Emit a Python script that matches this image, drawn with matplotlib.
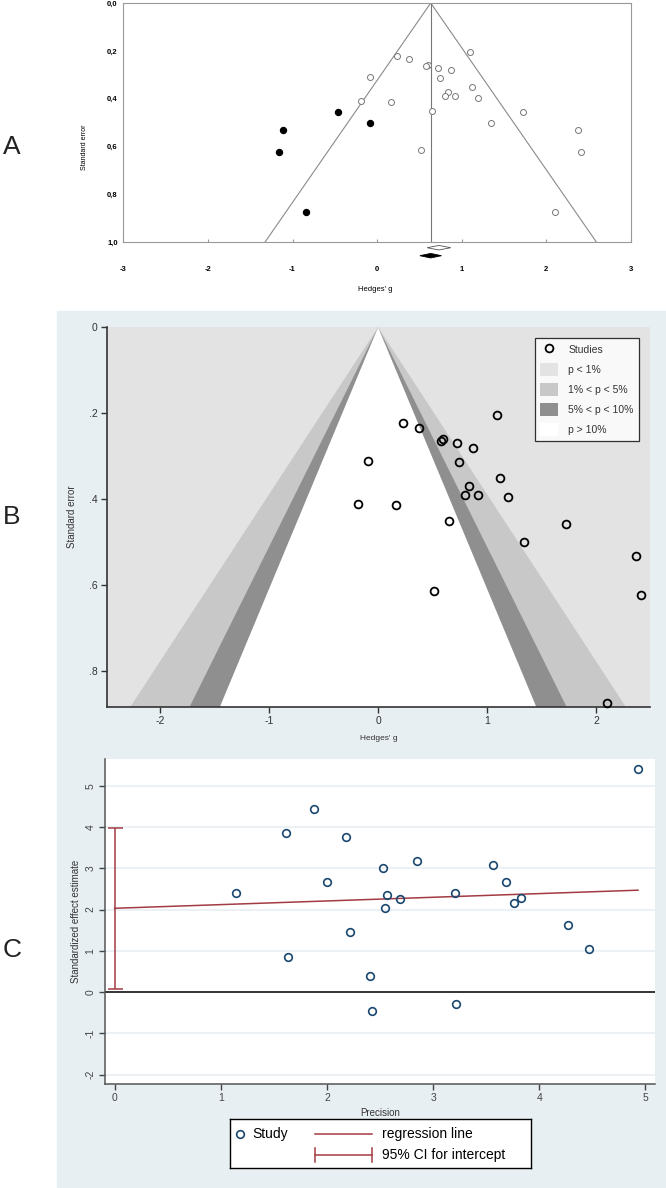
import numpy as np
import matplotlib
matplotlib.use("Agg")
import matplotlib.pyplot as plt
from matplotlib.lines import Line2D
from matplotlib.patches import Patch, Polygon, Rectangle

plt.rcParams["font.family"] = ["Liberation Sans", "DejaVu Sans"]
plt.rcParams["axes.unicode_minus"] = False

# --- datos ---
hedges_g = [1.095, 0.233, 0.377, 0.597, 0.577, 0.723, 0.867, -0.090, 0.747, 1.117,
            0.835, 0.797, 0.919, 1.195, -0.188, 0.164, 0.649, 1.726, 1.341, 0.513,
            2.370, 2.414, 2.100]
std_err = [0.203, 0.222, 0.234, 0.259, 0.265, 0.270, 0.280, 0.311, 0.312, 0.351,
           0.370, 0.390, 0.389, 0.395, 0.411, 0.414, 0.450, 0.457, 0.500, 0.613,
           0.531, 0.623, 0.874]
imputed_g = [-1.112, -1.157, -0.465, -0.081, -0.840]
imputed_se = [0.531, 0.623, 0.457, 0.500, 0.874]
funnel_center = 0.633
obs_ci = (0.59, 0.73, 0.87)     # diamante abierto (lo, est, hi)
adj_ci = (0.505, 0.633, 0.76)   # diamante relleno

precision = [4.93, 1.88, 1.61, 2.18, 2.85, 2.53, 3.56, 2.00, 3.69, 1.14, 3.21, 2.57,
             2.69, 3.83, 3.76, 2.55, 2.22, 4.27, 4.47, 1.63, 2.41, 2.42, 3.22]
std_effect = [5.40, 4.43, 3.85, 3.75, 3.17, 3.01, 3.09, 2.67, 2.67, 2.40, 2.39, 2.36,
              2.25, 2.28, 2.17, 2.04, 1.45, 1.62, 1.04, 0.84, 0.40, -0.45, -0.28]
egger_intercept, egger_slope = 2.03, 0.089
egger_ci = (0.08, 3.97)

contour_z = [2.576, 1.96, 1.645]
contour_labels = ["p < 1%", "1% < p < 5%", "5% < p < 10%", "p > 10%"]
contour_colors = ["#e3e3e3", "#c8c8c8", "#8f8f8f", "white"]

W, H = 666, 1188
fig = plt.figure(figsize=(W / 100, H / 100), dpi=100)
fig.patches.append(Rectangle((56.7 / W, 0), 1 - 56.7 / W, 1 - 311 / H, transform=fig.transFigure,
                             color="#e8eff2", zorder=-10))

def box(l, t, r, b):
    return [l / W, 1 - b / H, (r - l) / W, (b - t) / H]

# ---------- A: funnel con trim-and-fill ----------
axA = fig.add_axes(box(123.3, 3, 631, 242.3))
axA.set_xlim(-3, 3); axA.set_ylim(1.0, 0.0)
se_line = np.array([0.0, 1.0])
axA.plot(funnel_center - 1.96 * se_line, se_line, color="#8a8a8a", lw=0.8)
axA.plot(funnel_center + 1.96 * se_line, se_line, color="#8a8a8a", lw=0.8)
axA.plot([funnel_center, funnel_center], se_line, color="#777777", lw=0.8)
axA.plot(hedges_g, std_err, "o", mfc="white", mec="#777777", ms=4.3, mew=0.7, ls="none")
axA.plot(imputed_g, imputed_se, "o", color="black", ms=4.3, ls="none")
for (lo, est, hi), yc, fc in [(obs_ci, 1.0226, "white"), (adj_ci, 1.056, "black")]:
    hh = 0.0095
    axA.add_patch(Polygon([(lo, yc), (est, yc - hh), (hi, yc), (est, yc + hh)], closed=True,
                          facecolor=fc, edgecolor="#555555" if fc == "white" else "black",
                          lw=0.6, clip_on=False))
for s in axA.spines.values():
    s.set_color("#999999"); s.set_linewidth(0.8)
axA.set_xticks(range(-3, 4))
axA.set_xticklabels([str(v) for v in range(-3, 4)], fontsize=5.5, fontweight="bold")
axA.set_yticks(np.arange(0, 1.01, 0.2))
axA.set_yticklabels([f"{v:.1f}".replace(".", ",") for v in np.arange(0, 1.01, 0.2)],
                    fontsize=5.5, fontweight="bold")
axA.tick_params(axis="x", direction="in", length=2, color="#999999", pad=17)
axA.tick_params(axis="y", direction="in", length=0, pad=4)
axA.set_xlabel("Hedges' g", fontsize=5.5)
axA.xaxis.set_label_coords(0.496, -0.183)
axA.set_ylabel("Standard error", fontsize=5)
axA.yaxis.set_label_coords(-0.069, 0.396)

# ---------- B: contour-enhanced funnel ----------
axB = fig.add_axes(box(106.7, 327.3, 650, 706.7))
axB.set_facecolor(contour_colors[0])
axB.set_xlim(-2.49, 2.495); axB.set_ylim(0.882, 0)
se_max = 0.95
for z, c in zip(contour_z, contour_colors[1:]):
    axB.add_patch(Polygon([(0, 0), (-z * se_max, se_max), (z * se_max, se_max)],
                          closed=True, facecolor=c, edgecolor="none"))
axB.plot(hedges_g, std_err, "o", mfc="none", mec="black", ms=5.6, mew=1.3, ls="none",
         clip_on=False, zorder=5)
for side in ["top", "right"]:
    axB.spines[side].set_visible(False)
for side in ["left", "bottom"]:
    axB.spines[side].set_color("#333333"); axB.spines[side].set_linewidth(1.2)
axB.set_xticks([-2, -1, 0, 1, 2])
axB.set_yticks([0, 0.2, 0.4, 0.6, 0.8])
axB.set_yticklabels(["0", ".2", ".4", ".6", ".8"])
axB.tick_params(direction="out", length=4.3, width=1, colors="#333333", labelsize=7.5, pad=2.5)
axB.set_ylabel("Standard error", fontsize=7, color="#333333")
axB.yaxis.set_label_coords(-0.055, 0.5)
axB.set_xlabel("Hedges' g", fontsize=6, color="#333333")
axB.xaxis.set_label_coords(0.5, -0.075)
handles = [Line2D([], [], marker="o", ls="none", mfc="none", mec="black", ms=5.6, mew=1.3)]
handles += [Patch(facecolor=c, edgecolor="none") for c in contour_colors]
leg = axB.legend(handles, ["Studies"] + contour_labels, loc="upper right",
                 bbox_to_anchor=(0.989, 0.985), fontsize=7.5, frameon=True, fancybox=False,
                 handlelength=1.7, handleheight=1.55, labelspacing=0.65, borderpad=0.5,
                 handletextpad=1.0)
leg.get_frame().set_edgecolor("black"); leg.get_frame().set_linewidth(0.9)
for t in leg.get_texts():
    t.set_color("#333333")

# ---------- C: Egger ----------
axC = fig.add_axes(box(105, 759.3, 655, 1083.7))
axC.set_facecolor("white")
axC.set_xlim(-0.09, 5.09); axC.set_ylim(-2.22, 5.64)
axC.set_yticks(range(-2, 6))
axC.yaxis.grid(True, color="#e8eff2", lw=1.2)
axC.set_axisbelow(True)
axC.axhline(0, color="#333333", lw=1.4, zorder=2)
red = "#a33b44"
xs = np.array([0, max(precision)])
axC.plot(xs, egger_intercept + egger_slope * xs, color=red, lw=1.1, zorder=3)
mid = (egger_ci[0] + egger_ci[1]) / 2
axC.errorbar([0], [mid], yerr=[[mid - egger_ci[0]], [egger_ci[1] - mid]], fmt="none",
             ecolor=red, elinewidth=1.1, capsize=5.4, capthick=1.1, zorder=3)
axC.plot(precision, std_effect, "o", mfc="none", mec="#1a476f", ms=5.5, mew=1.2, ls="none",
         zorder=4, clip_on=False)
for side in ["top", "right"]:
    axC.spines[side].set_visible(False)
for side in ["left", "bottom"]:
    axC.spines[side].set_color("#555555"); axC.spines[side].set_linewidth(1.1)
axC.set_xticks(range(0, 6))
axC.set_yticklabels([str(v) for v in range(-2, 6)], rotation=90, va="center")
axC.tick_params(direction="out", length=4.3, width=1, colors="#444444", labelsize=7.5, pad=2.5)
axC.set_ylabel("Standardized effect estimate", fontsize=7, color="#333333")
axC.yaxis.set_label_coords(-0.0445, 0.5)
axC.set_xlabel("Precision", fontsize=7, color="#333333")
axC.xaxis.set_label_coords(0.5, -0.075)

# leyenda C dibujada a mano
lax = fig.add_axes(box(230.2, 1119, 530.6, 1168.3))
lax.set_xlim(0, 1); lax.set_ylim(0, 1)
lax.set_xticks([]); lax.set_yticks([])
for s in lax.spines.values():
    s.set_color("black"); s.set_linewidth(1.0)
lax.plot([0.031], [0.70], "o", mfc="none", mec="#1a476f", ms=5.5, mew=1.2)
lax.text(0.074, 0.70, "Study", fontsize=10, va="center")
lax.plot([0.282, 0.473], [0.70, 0.70], color=red, lw=1.1)
lax.text(0.505, 0.70, "regression line", fontsize=10, va="center")
lax.plot([0.282, 0.473], [0.27, 0.27], color=red, lw=1.1)
lax.plot([0.282, 0.282], [0.12, 0.42], color=red, lw=1.1)
lax.plot([0.473, 0.473], [0.12, 0.42], color=red, lw=1.1)
lax.text(0.505, 0.27, "95% CI for intercept", fontsize=10, va="center")

for lab, yp in [("A", 147), ("B", 517), ("C", 950)]:
    fig.text(12 / W, 1 - yp / H, lab, fontsize=19, ha="center", va="center", color="#222222")

fig.savefig("out.png", dpi=100)
